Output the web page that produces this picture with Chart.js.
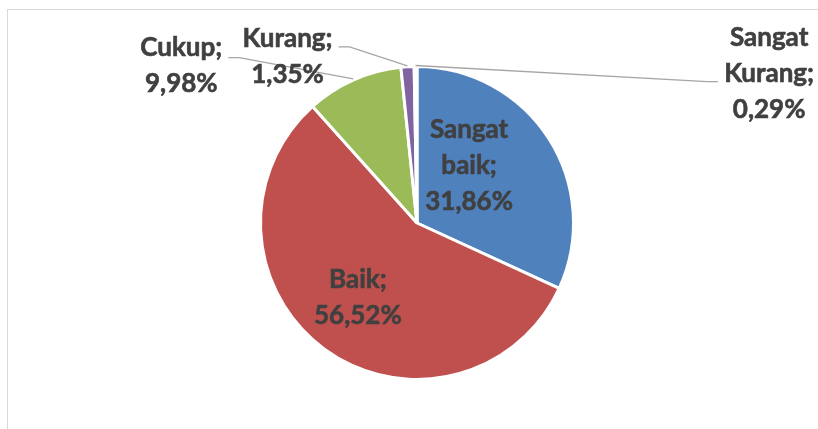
<!DOCTYPE html>
<html>
<head>
<meta charset="utf-8">
<script src="https://cdn.jsdelivr.net/npm/chart.js@4"></script>
<style>
  html, body { margin: 0; padding: 0; background: #fff; overflow: hidden; }
  #wrap { width: 818px; height: 429px; position: relative; }
</style>
</head>
<body>
<div id="wrap"><canvas id="pie-chart"></canvas></div>
<script>
const categories = ['Sangat baik', 'Baik', 'Cukup', 'Kurang', 'Sangat Kurang']
const values = [31.86, 56.52, 9.98, 1.35, 0.29]
const colors = ['#4F81BD', '#C0504D', '#9BBB59', '#8064A2', '#4BACC6']

// label placement, in units of the pie radius from its centre
const labelLayout = [
  { x: 0.333, y: -0.365 },
  { x: -0.378, y: 0.474 },
  { x: -1.506, y: -1.006, leader: 'left', leaderDy: -8 },
  { x: -0.827, y: -1.061, leader: 'left', leaderDy: -10 },
  { x: 2.25, y: -0.955, leader: 'right', leaderDy: 8 }
]

const fmt = (v) => v.toFixed(2).replace('.', ',') + '%'

const frame = {
  id: 'frame',
  beforeDraw (chart) {
    const c = chart.ctx
    c.save()
    c.strokeStyle = '#d9d9d9'
    c.lineWidth = 1
    c.strokeRect(7.5, 9.5, 900, 500)
    c.restore()
  }
}

const pieLabels = {
  id: 'pieLabels',
  afterDatasetsDraw (chart) {
    const c = chart.ctx
    const meta = chart.getDatasetMeta(0)
    const lineH = 36
    c.save()
    c.font = 'bold 26px Lato'
    c.fillStyle = '#404040'
    c.strokeStyle = '#404040'
    c.lineWidth = 0.6
    c.textAlign = 'center'
    c.textBaseline = 'middle'
    meta.data.forEach((arc, i) => {
      const { x: cx, y: cy, outerRadius: r, startAngle, endAngle } = arc.getProps(['x', 'y', 'outerRadius', 'startAngle', 'endAngle'], true)
      const lay = labelLayout[i]
      const words = categories[i].split(' ')
      words[words.length - 1] += ';'
      const lines = words.concat([fmt(values[i])])
      const lx = cx + lay.x * r
      const ly = cy + lay.y * r
      const top = ly - (lines.length - 1) * lineH / 2
      let w = 0
      lines.forEach((t, k) => {
        c.fillText(t, lx, top + k * lineH)
        c.strokeText(t, lx, top + k * lineH)
        w = Math.max(w, c.measureText(t).width)
      })
      if (lay.leader) {
        const mid = (startAngle + endAngle) / 2
        const px = cx + Math.cos(mid) * (r + 1)
        const py = cy + Math.sin(mid) * (r + 1)
        const side = lay.leader === 'left' ? 1 : -1
        const ex = lx + side * (w / 2 + 6)
        const ey = ly + lay.leaderDy
        c.save()
        c.beginPath()
        c.strokeStyle = '#a6a6a6'
        c.lineWidth = 1.3
        c.moveTo(px, py)
        c.lineTo(ex + side * 11, ey)
        c.lineTo(ex, ey)
        c.stroke()
        c.restore()
      }
    })
    c.restore()
  }
}

const ctx = document.getElementById('pie-chart')

const chart = new Chart(ctx, {
  type: 'pie',
  data: {
    labels: categories,
    datasets: [{
      data: values,
      backgroundColor: colors,
      borderColor: '#ffffff',
      borderWidth: 3
    }]
  },
  options: {
    responsive: true,
    maintainAspectRatio: false,
    animation: false,
    layout: {
      padding: { left: 259, right: 243, top: 65, bottom: 48 }
    },
    plugins: {
      legend: { display: false },
      tooltip: { enabled: false }
    }
  },
  plugins: [frame, pieLabels]
})
</script>
</body>
</html>
